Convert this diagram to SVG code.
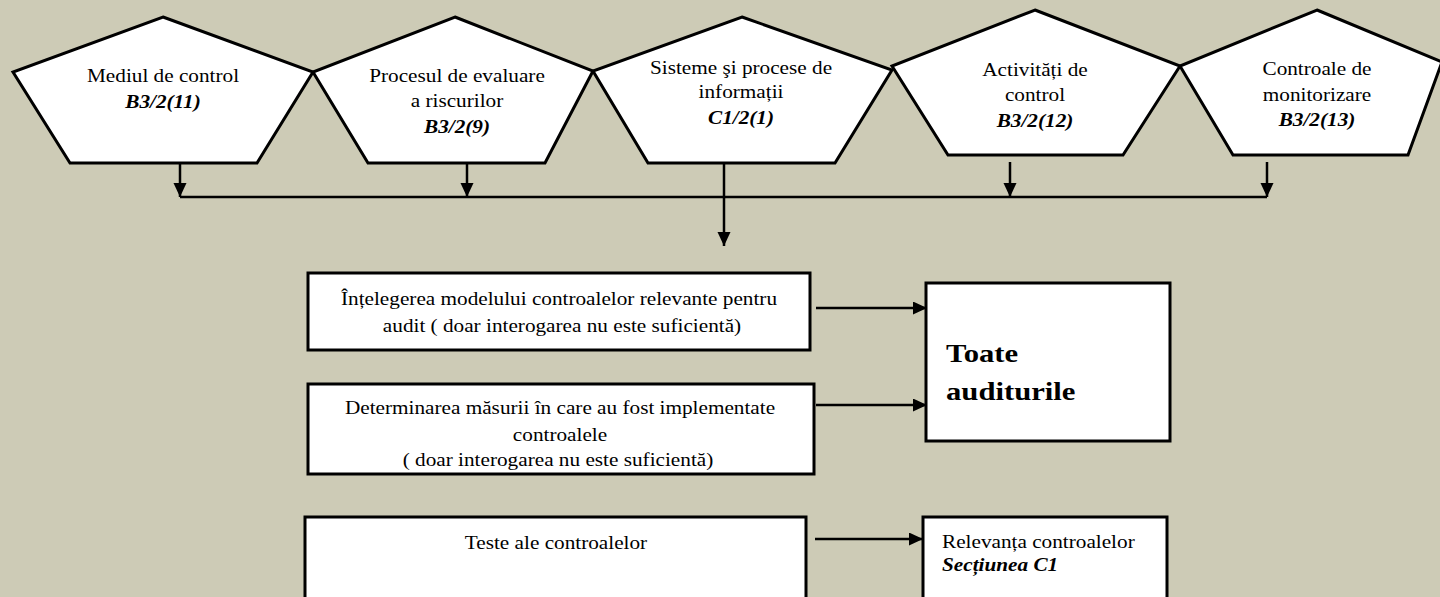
<svg xmlns="http://www.w3.org/2000/svg" width="1440" height="597" viewBox="0 0 1440 597">
<style>
.bg{fill:#CDCBB6}
.pent{fill:#FFFFFF;stroke:#000000;stroke-width:3;stroke-linejoin:miter}
.box{fill:#FFFFFF;stroke:#000000;stroke-width:3}
.line{fill:none;stroke:#000000;stroke-width:2.5}
.t{font-family:'Liberation Serif',serif;font-size:18px;fill:#000000}
.c{text-anchor:middle}
.code{font-weight:bold;font-style:italic}
.big{font-weight:bold;font-size:26px}
</style>
<defs>
<marker id="ah" markerUnits="userSpaceOnUse" markerWidth="16" markerHeight="14" refX="14" refY="6.5" orient="auto">
<path d="M0,0 L14,6.5 L0,13 Z" fill="#000000"/>
</marker>
</defs>
<rect class="bg" x="0" y="0" width="1440" height="597"/>
<g id="connectors">
<line class="line" x1="180" y1="163" x2="180" y2="197" marker-end="url(#ah)"/>
<line class="line" x1="467" y1="163" x2="467" y2="197" marker-end="url(#ah)"/>
<line class="line" x1="1010" y1="162" x2="1010" y2="197" marker-end="url(#ah)"/>
<line class="line" x1="1267" y1="162" x2="1267" y2="197" marker-end="url(#ah)"/>
<line class="line" x1="180" y1="197" x2="1267" y2="197"/>
<line class="line" x1="724" y1="163" x2="724" y2="246" marker-end="url(#ah)"/>
<line class="line" x1="816" y1="308" x2="927" y2="308" marker-end="url(#ah)"/>
<line class="line" x1="816" y1="405" x2="927" y2="405" marker-end="url(#ah)"/>
<line class="line" x1="815" y1="539" x2="923" y2="539" marker-end="url(#ah)"/>
</g>
<g id="node-mediul" font-family="Liberation Serif, serif">
<polygon class="pent" points="163,17 313,72 257,163 70,163 13,72"/>
<text class="t c" transform="translate(163 82) scale(1.18 1)">Mediul de control</text>
<text class="t c code" transform="translate(163 108) scale(1.18 1)">B3/2(11)</text>
</g>
<g id="node-procesul" font-family="Liberation Serif, serif">
<polygon class="pent" points="455,17 593,71 545,163 368,163 313,72"/>
<text class="t c" transform="translate(457 82) scale(1.18 1)">Procesul de evaluare</text>
<text class="t c" transform="translate(457 107) scale(1.18 1)">a riscurilor</text>
<text class="t c code" transform="translate(457 133) scale(1.18 1)">B3/2(9)</text>
</g>
<g id="node-sisteme" font-family="Liberation Serif, serif">
<polygon class="pent" points="742,17 892,70 835,163 648,163 593,71"/>
<text class="t c" transform="translate(741 74) scale(1.18 1)">Sisteme şi procese de</text>
<text class="t c" transform="translate(741 98) scale(1.18 1)">informații</text>
<text class="t c code" transform="translate(741 124) scale(1.18 1)">C1/2(1)</text>
</g>
<g id="node-activitati" font-family="Liberation Serif, serif">
<polygon class="pent" points="1035,10 1180,66 1123,155 948,155 892,66"/>
<text class="t c" transform="translate(1035 76) scale(1.18 1)">Activități de</text>
<text class="t c" transform="translate(1035 101) scale(1.18 1)">control</text>
<text class="t c code" transform="translate(1035 127) scale(1.18 1)">B3/2(12)</text>
</g>
<g id="node-controale" font-family="Liberation Serif, serif">
<polygon class="pent" points="1317,10 1442,62 1408,155 1233,155 1180,66"/>
<text class="t c" transform="translate(1317 75) scale(1.18 1)">Controale de</text>
<text class="t c" transform="translate(1317 101) scale(1.18 1)">monitorizare</text>
<text class="t c code" transform="translate(1317 126) scale(1.18 1)">B3/2(13)</text>
</g>
<g id="node-intelegerea" font-family="Liberation Serif, serif">
<rect class="box" x="308" y="273" width="502" height="77"/>
<text class="t c" transform="translate(559 305) scale(1.18 1)">Înțelegerea modelului controalelor relevante pentru</text>
<text class="t c" transform="translate(562 332) scale(1.18 1)">audit ( doar interogarea nu este suficientă)</text>
</g>
<g id="node-determinarea" font-family="Liberation Serif, serif">
<rect class="box" x="308" y="384" width="506" height="90"/>
<text class="t c" transform="translate(560 414) scale(1.18 1)">Determinarea măsurii în care au fost implementate</text>
<text class="t c" transform="translate(560 441) scale(1.18 1)">controalele</text>
<text class="t c" transform="translate(558 466) scale(1.18 1)">( doar interogarea nu este suficientă)</text>
</g>
<g id="node-toate" font-family="Liberation Serif, serif">
<rect class="box" x="926" y="283" width="244" height="158"/>
<text class="t big" transform="translate(946 362) scale(1.18 1)">Toate</text>
<text class="t big" transform="translate(946 400) scale(1.18 1)">auditurile</text>
</g>
<g id="node-teste" font-family="Liberation Serif, serif">
<rect class="box" x="305" y="517" width="501" height="95"/>
<text class="t c" transform="translate(556 549) scale(1.18 1)">Teste ale controalelor</text>
</g>
<g id="node-relevanta" font-family="Liberation Serif, serif">
<rect class="box" x="923" y="517" width="244" height="95"/>
<text class="t" transform="translate(942 548) scale(1.18 1)">Relevanța controalelor</text>
<text class="t code" transform="translate(942 571) scale(1.18 1)">Secțiunea C1</text>
</g>
</svg>
